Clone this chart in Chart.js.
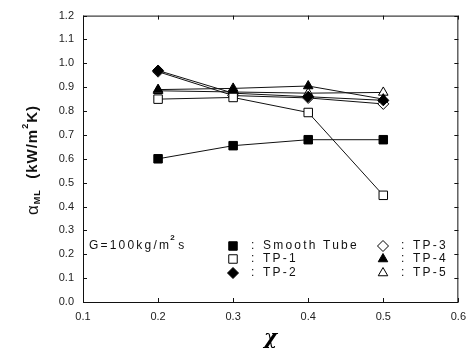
<!DOCTYPE html>
<html><head><meta charset="utf-8">
<script src="https://cdn.jsdelivr.net/npm/chart.js@4/dist/chart.umd.min.js"></script>
<style>html,body{margin:0;padding:0;background:#fff}#wrap{width:474px;height:351px}</style>
</head><body><div id="wrap"><canvas id="c" width="474" height="351"></canvas></div>
<script>
const xValues = [0.2, 0.3, 0.4, 0.5];
const smoothTube = [0.60, 0.655, 0.68, 0.68];
const tp1 = [0.85, 0.857, 0.794, 0.447];
const tp2 = [0.97, 0.875, 0.86, 0.845];
const tp3 = [0.965, 0.865, 0.855, 0.83];
const tp4 = [0.89, 0.895, 0.905, 0.85];
const tp5 = [0.885, 0.88, 0.875, 0.878];
const seriesNames = ['Smooth Tube', 'TP-1', 'TP-2', 'TP-3', 'TP-4', 'TP-5'];
const xTicks = [0.1, 0.2, 0.3, 0.4, 0.5, 0.6];
const yTicks = [0.0, 0.1, 0.2, 0.3, 0.4, 0.5, 0.6, 0.7, 0.8, 0.9, 1.0, 1.1, 1.2];
const conditionLabel = 'G=100kg/m';

const styles = [
  {pointStyle:'rect', fill:'#000', r:6},
  {pointStyle:'rect', fill:'#fff', r:6},
  {pointStyle:'rectRot', fill:'#000', r:5.5},
  {pointStyle:'rectRot', fill:'#fff', r:5.5},
  {pointStyle:'triangle', fill:'#000', r:5.5},
  {pointStyle:'triangle', fill:'#fff', r:5.5}
];
const allSeries = [smoothTube, tp1, tp2, tp3, tp4, tp5];
const datasets = allSeries.map((vals, i) => ({
  label: seriesNames[i],
  data: xValues.map((x, j) => ({x: x, y: vals[j]})),
  borderColor: '#111',
  borderWidth: 1,
  pointStyle: styles[i].pointStyle,
  pointRadius: styles[i].r,
  pointBackgroundColor: styles[i].fill,
  pointBorderColor: '#000',
  pointBorderWidth: 1,
  showLine: true,
  fill: false
}));

const FONT = '"Liberation Sans", Arial, sans-serif';

const decor = {
  id: 'decor',
  afterDraw(chart) {
    const ctx = chart.ctx;
    const a = chart.chartArea;
    const xs = chart.scales.x, ys = chart.scales.y;
    ctx.save();
    ctx.strokeStyle = '#111';
    ctx.lineWidth = 1;
    ctx.strokeRect(a.left + 0.5, a.top + 0.5, a.right - a.left - 1, a.bottom - a.top);
    ctx.beginPath();
    xTicks.forEach(v => {
      const px = Math.round(xs.getPixelForValue(v)) + 0.5;
      ctx.moveTo(px, a.bottom); ctx.lineTo(px, a.bottom - 4);
      ctx.moveTo(px, a.top); ctx.lineTo(px, a.top + 4);
    });
    yTicks.forEach(v => {
      const py = Math.round(ys.getPixelForValue(v)) + 0.5;
      ctx.moveTo(a.left, py); ctx.lineTo(a.left + 4, py);
      ctx.moveTo(a.right, py); ctx.lineTo(a.right - 4, py);
    });
    ctx.stroke();

    // y-axis title with sub/superscript
    ctx.translate(33, 160);
    ctx.rotate(-Math.PI / 2);
    ctx.fillStyle = '#111';
    ctx.textBaseline = 'middle';
    ctx.textAlign = 'left';
    const parts = [
      {t:'α', f:'17px ' + FONT, dy:0},
      {t:'ML', f:'bold 9px ' + FONT, dy:5},
      {t:'  (kW/m', f:'bold 15px ' + FONT, dy:0},
      {t:'2', f:'bold 9px ' + FONT, dy:-7},
      {t:'K)', f:'bold 15px ' + FONT, dy:0}
    ];
    try { ctx.letterSpacing = '1px'; } catch(e) {}
    let total = 0;
    parts.forEach(p => { ctx.font = p.f; total += ctx.measureText(p.t).width; });
    let x = -total / 2;
    parts.forEach(p => { ctx.font = p.f; ctx.fillText(p.t, x, p.dy); x += ctx.measureText(p.t).width; });
    ctx.restore();

    // condition label and legend
    ctx.save();
    ctx.fillStyle = '#111';
    ctx.textBaseline = 'middle';
    ctx.textAlign = 'left';
    try { ctx.letterSpacing = '2.2px'; } catch(e) {}
    ctx.font = '12px ' + FONT;
    ctx.fillText(conditionLabel, 89, 246);
    let w = ctx.measureText(conditionLabel).width;
    ctx.font = 'bold 8px ' + FONT;
    ctx.fillText('2', 89 + w - 1, 238);
    ctx.font = '12px ' + FONT;
    ctx.fillText('s', 89 + w + 7, 246);

    const cols = [
      {mx:233, cx:251, tx:263},
      {mx:383, cx:401, tx:413}
    ];
    const rowY = [246, 259, 273];
    const layout = [[0,0],[0,1],[0,2],[1,0],[1,1],[1,2]];
    layout.forEach((lc, i) => {
      const c = cols[lc[0]], y = rowY[lc[1]];
      const st = styles[i];
      ctx.fillStyle = st.fill; ctx.strokeStyle = '#000'; ctx.lineWidth = 1;
      if (Chart.helpers && Chart.helpers.drawPoint) {
        Chart.helpers.drawPoint(ctx, {pointStyle: st.pointStyle, radius: st.r, rotation: 0, borderWidth: 1}, c.mx, y);
      }
      ctx.fillStyle = '#111';
      ctx.font = '12px ' + FONT;
      ctx.fillText(':', c.cx, y);
      ctx.fillText(seriesNames[i], c.tx, y);
    });
    ctx.restore();
  }
};

new Chart(document.getElementById('c'), {
  type: 'scatter',
  data: {datasets},
  plugins: [decor],
  options: {
    responsive: false,
    animation: false,
    layout: {padding: {left: 0, right: 13, top: 15, bottom: 0}},
    plugins: {legend: {display: false}, tooltip: {enabled: false}},
    scales: {
      x: {
        type: 'linear', min: 0.1, max: 0.6,
        afterBuildTicks(s) { s.ticks = xTicks.map(v => ({value: v})); },
        afterFit(s) { s.height = 49; },
        grid: {display: false, drawTicks: false},
        border: {display: false},
        ticks: {padding: 8, color: '#222', font: {family: FONT, size: 11}, callback: v => v.toFixed(1), maxRotation: 0, autoSkip: false},
        title: {display: true, text: 'χ', color: '#000', font: {family: '"DejaVu Serif", serif', size: 20, weight: 'bold', style: 'italic'}, padding: {top: 0, bottom: 0}}
      },
      y: {
        type: 'linear', min: 0, max: 1.2,
        afterBuildTicks(s) { s.ticks = yTicks.map(v => ({value: v})); },
        afterFit(s) { s.width = 83; },
        grid: {display: false, drawTicks: false},
        border: {display: false},
        ticks: {padding: 9, color: '#222', font: {family: FONT, size: 11}, callback: v => v.toFixed(1), autoSkip: false}
      }
    }
  }
});
</script></body></html>
